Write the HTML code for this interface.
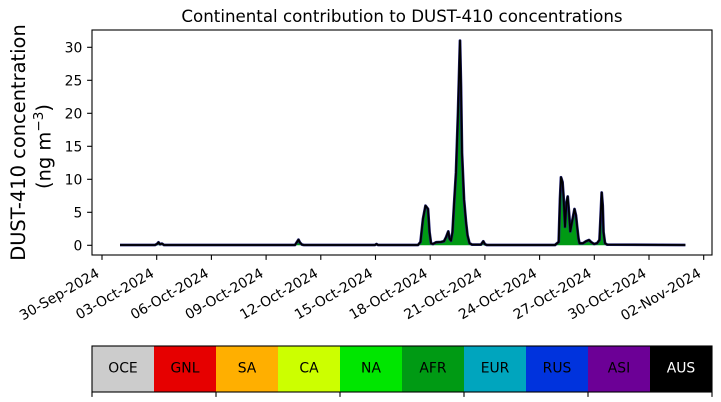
<!DOCTYPE html>
<html><head><meta charset="utf-8"><style>
html,body{margin:0;padding:0;background:#fff;}
svg{display:block;}
text{font-family:"DejaVu Sans","Liberation Sans",sans-serif;fill:#000;}
</style></head><body>
<svg width="721" height="402" viewBox="0 0 721 402" xmlns="http://www.w3.org/2000/svg">
<rect width="721" height="402" fill="#fff"/>
<text x="402" y="22" font-size="16.67" text-anchor="middle">Continental contribution to DUST-410 concentrations</text>

<!-- data -->
<g>
<polygon fill="#009a14" points="120,245.3 120,245 155,245 157,244 158.5,242.3 160,244.3 162,243.6 164,245 295,245 297,242 298.5,239.7 300,242.7 302,244.6 304,245 375,245 376.5,244 378,245 418,245 420.5,242 423,218.9 425.5,205.7 428,209 429.5,232.1 431,243.3 433,244 436,242.3 441,242 444,241.3 446,237.4 448.3,231.4 449.5,238.7 451,240.7 452.5,232.1 454,205.7 456,172.7 458,113.3 460,40.7 461,86.9 462,152.9 464,199.1 466,222.2 467.5,235.4 469.5,243.3 472,244.6 481,244.6 483.3,241.3 485,244.3 487,245 555,245 558.7,242 560,199.1 561,177.3 562.5,182 563.5,195.8 565,226.8 566.5,202.4 567.7,196.5 569,212.3 570.3,231.4 572,222.2 574.5,209 576,215.6 577,225.5 578.5,238.7 579.5,243.3 583,243.3 586,241.3 589,240 591,242 594,244 597,243.3 599.5,240 600.5,218.9 601.7,192.5 602.7,205.7 603.5,232.1 605,243.3 607,244.6 685.4,245 685.4,245.3"/>
<polyline fill="none" stroke="#23237a" stroke-width="2.8" stroke-linejoin="round" points="120,245 155,245 157,244 158.5,242.3 160,244.3 162,243.6 164,245 295,245 297,242 298.5,239.7 300,242.7 302,244.6 304,245 375,245 376.5,244 378,245 418,245 420.5,242 423,218.9 425.5,205.7 428,209 429.5,232.1 431,243.3 433,244 436,242.3 441,242 444,241.3 446,237.4 448.3,231.4 449.5,238.7 451,240.7 452.5,232.1 454,205.7 456,172.7 458,113.3 460,40.7 461,86.9 462,152.9 464,199.1 466,222.2 467.5,235.4 469.5,243.3 472,244.6 481,244.6 483.3,241.3 485,244.3 487,245 555,245 558.7,242 560,199.1 561,177.3 562.5,182 563.5,195.8 565,226.8 566.5,202.4 567.7,196.5 569,212.3 570.3,231.4 572,222.2 574.5,209 576,215.6 577,225.5 578.5,238.7 579.5,243.3 583,243.3 586,241.3 589,240 591,242 594,244 597,243.3 599.5,240 600.5,218.9 601.7,192.5 602.7,205.7 603.5,232.1 605,243.3 607,244.6 685.4,245"/>
<polyline fill="none" stroke="#000" stroke-width="1.8" stroke-linejoin="round" points="120,245 155,245 157,244 158.5,242.3 160,244.3 162,243.6 164,245 295,245 297,242 298.5,239.7 300,242.7 302,244.6 304,245 375,245 376.5,244 378,245 418,245 420.5,242 423,218.9 425.5,205.7 428,209 429.5,232.1 431,243.3 433,244 436,242.3 441,242 444,241.3 446,237.4 448.3,231.4 449.5,238.7 451,240.7 452.5,232.1 454,205.7 456,172.7 458,113.3 460,40.7 461,86.9 462,152.9 464,199.1 466,222.2 467.5,235.4 469.5,243.3 472,244.6 481,244.6 483.3,241.3 485,244.3 487,245 555,245 558.7,242 560,199.1 561,177.3 562.5,182 563.5,195.8 565,226.8 566.5,202.4 567.7,196.5 569,212.3 570.3,231.4 572,222.2 574.5,209 576,215.6 577,225.5 578.5,238.7 579.5,243.3 583,243.3 586,241.3 589,240 591,242 594,244 597,243.3 599.5,240 600.5,218.9 601.7,192.5 602.7,205.7 603.5,232.1 605,243.3 607,244.6 685.4,245"/>
</g>

<!-- axes frame -->
<rect x="92" y="30" width="620" height="225" fill="none" stroke="#000" stroke-width="1.1"/>

<!-- y ticks -->
<g stroke="#000" stroke-width="1.1">
<line x1="87.1" y1="245.3" x2="92" y2="245.3"/>
<line x1="87.1" y1="212.3" x2="92" y2="212.3"/>
<line x1="87.1" y1="179.3" x2="92" y2="179.3"/>
<line x1="87.1" y1="146.3" x2="92" y2="146.3"/>
<line x1="87.1" y1="113.3" x2="92" y2="113.3"/>
<line x1="87.1" y1="80.3" x2="92" y2="80.3"/>
<line x1="87.1" y1="47.3" x2="92" y2="47.3"/>
</g>
<g font-size="13.9" text-anchor="end">
<text x="82.3" y="250.4">0</text>
<text x="82.3" y="217.4">5</text>
<text x="82.3" y="184.4">10</text>
<text x="82.3" y="151.4">15</text>
<text x="82.3" y="118.4">20</text>
<text x="82.3" y="85.4">25</text>
<text x="82.3" y="52.4">30</text>
</g>

<!-- y label -->
<text transform="translate(25,142.5) rotate(-90)" font-size="19.44" text-anchor="middle">DUST-410 concentration</text>
<text transform="translate(50.7,146.5) rotate(-90)" font-size="19.44" text-anchor="middle">(ng m<tspan font-size="13.6" dy="-7.5">−3</tspan><tspan dy="7.5">)</tspan></text>

<!-- x ticks -->
<g stroke="#000" stroke-width="1.1">
<line x1="102" y1="255" x2="102" y2="259.9"/>
<line x1="156.7" y1="255" x2="156.7" y2="259.9"/>
<line x1="211.4" y1="255" x2="211.4" y2="259.9"/>
<line x1="266.1" y1="255" x2="266.1" y2="259.9"/>
<line x1="320.8" y1="255" x2="320.8" y2="259.9"/>
<line x1="375.5" y1="255" x2="375.5" y2="259.9"/>
<line x1="430.2" y1="255" x2="430.2" y2="259.9"/>
<line x1="484.9" y1="255" x2="484.9" y2="259.9"/>
<line x1="539.6" y1="255" x2="539.6" y2="259.9"/>
<line x1="594.3" y1="255" x2="594.3" y2="259.9"/>
<line x1="649" y1="255" x2="649" y2="259.9"/>
<line x1="703.7" y1="255" x2="703.7" y2="259.9"/>
</g>
<g font-size="13.9" text-anchor="end">
<text transform="translate(100.3,276) rotate(-30)">30-Sep-2024</text>
<text transform="translate(155,276) rotate(-30)">03-Oct-2024</text>
<text transform="translate(209.7,276) rotate(-30)">06-Oct-2024</text>
<text transform="translate(264.4,276) rotate(-30)">09-Oct-2024</text>
<text transform="translate(319.1,276) rotate(-30)">12-Oct-2024</text>
<text transform="translate(373.8,276) rotate(-30)">15-Oct-2024</text>
<text transform="translate(428.5,276) rotate(-30)">18-Oct-2024</text>
<text transform="translate(483.2,276) rotate(-30)">21-Oct-2024</text>
<text transform="translate(537.9,276) rotate(-30)">24-Oct-2024</text>
<text transform="translate(592.6,276) rotate(-30)">27-Oct-2024</text>
<text transform="translate(647.3,276) rotate(-30)">30-Oct-2024</text>
<text transform="translate(702,276) rotate(-30)">02-Nov-2024</text>
</g>

<!-- colorbar legend -->
<g>
<rect x="92" y="346" width="62" height="46" fill="#cccccc"/>
<rect x="154" y="346" width="62" height="46" fill="#e60000"/>
<rect x="216" y="346" width="62" height="46" fill="#ffaf00"/>
<rect x="278" y="346" width="62" height="46" fill="#ccff00"/>
<rect x="340" y="346" width="62" height="46" fill="#00e600"/>
<rect x="402" y="346" width="62" height="46" fill="#009a14"/>
<rect x="464" y="346" width="62" height="46" fill="#00a5be"/>
<rect x="526" y="346" width="62" height="46" fill="#0033dd"/>
<rect x="588" y="346" width="62" height="46" fill="#6c0096"/>
<rect x="650" y="346" width="62" height="46" fill="#000000"/>
<rect x="92" y="346" width="620" height="46" fill="none" stroke="#000" stroke-width="1.1"/>
</g>
<g stroke="#000" stroke-width="1.1">
<line x1="92" y1="392" x2="92" y2="396.9"/>
<line x1="216" y1="392" x2="216" y2="396.9"/>
<line x1="340" y1="392" x2="340" y2="396.9"/>
<line x1="464" y1="392" x2="464" y2="396.9"/>
<line x1="588" y1="392" x2="588" y2="396.9"/>
<line x1="712" y1="392" x2="712" y2="396.9"/>
</g>
<g font-size="13.9" text-anchor="middle">
<text x="123" y="372.4">OCE</text>
<text x="185" y="372.4">GNL</text>
<text x="247" y="372.4">SA</text>
<text x="309" y="372.4">CA</text>
<text x="371" y="372.4">NA</text>
<text x="433" y="372.4">AFR</text>
<text x="495" y="372.4">EUR</text>
<text x="557" y="372.4">RUS</text>
<text x="619" y="372.4">ASI</text>
<text x="681" y="372.4" style="fill:#fff">AUS</text>
</g>
</svg>
</body></html>
